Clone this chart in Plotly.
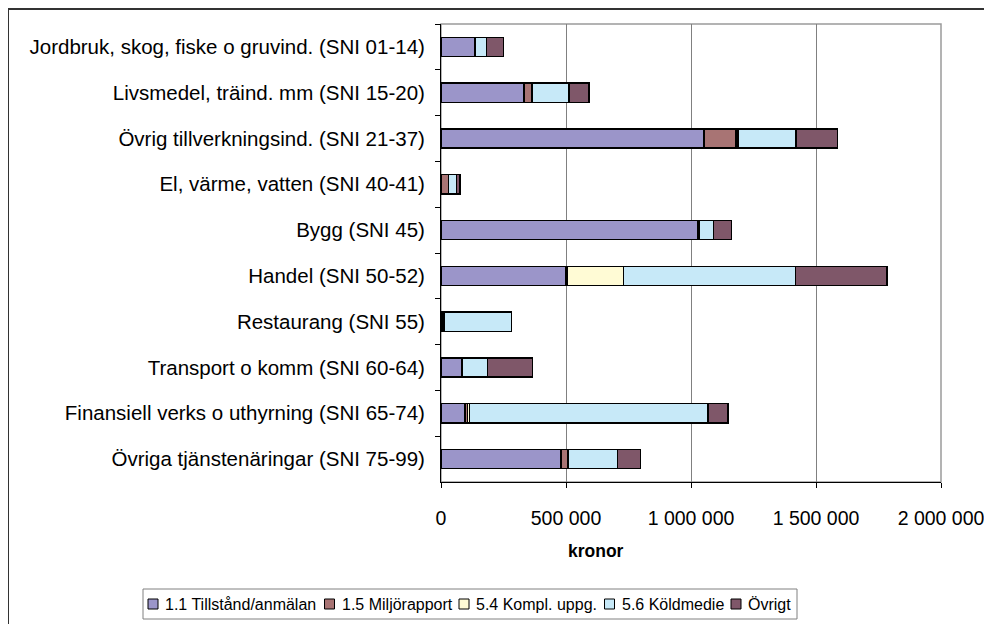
import plotly.graph_objects as go

categories = [
    "Jordbruk, skog, fiske o gruvind. (SNI 01-14)",
    "Livsmedel, träind. mm (SNI 15-20)",
    "Övrig tillverkningsind. (SNI 21-37)",
    "El, värme, vatten (SNI 40-41)",
    "Bygg (SNI 45)",
    "Handel (SNI 50-52)",
    "Restaurang (SNI 55)",
    "Transport o komm (SNI 60-64)",
    "Finansiell verks o uthyrning (SNI 65-74)",
    "Övriga tjänstenäringar (SNI 75-99)",
]

series_names = ["1.1 Tillstånd/anmälan", "1.5 Miljörapport", "5.4 Kompl. uppg.", "5.6 Köldmedie", "Övrigt"]
tillstand = [133000, 332000, 1052000, 0, 1027000, 499000, 8000, 83000, 95000, 480000]
miljorapport = [5000, 32000, 128000, 29000, 6000, 6000, 3000, 0, 11000, 27000]
kompl_uppg = [0, 0, 8000, 0, 0, 224000, 0, 0, 7000, 0]
koldmedie = [44000, 147000, 231000, 33000, 57000, 689000, 271000, 103000, 955000, 199000]
ovrigt = [67000, 80000, 167000, 13000, 72000, 365000, 0, 180000, 79000, 91000]
series_values = [tillstand, miljorapport, kompl_uppg, koldmedie, ovrigt]
colors = ["#9B95C9", "#A87474", "#FFFBD5", "#C7E9F8", "#7F5769"]

x_tickvals = [0, 500000, 1000000, 1500000, 2000000]
x_ticktext = ["0", "500 000", "1 000 000", "1 500 000", "2 000 000"]

FONT = "Liberation Sans, Arial, sans-serif"
OFF = 8  # page offset of the figure (body margin)
W, H = 992, 624
# plot area in page pixel coordinates
PL, PR, PT, PB = 441, 941, 24, 482


def px(x):
    return (x - PL) / (PR - PL)


def py(y):
    return (PB - y) / (PB - PT)


fig = go.Figure()
for name, vals, col in zip(series_names, series_values, colors):
    fig.add_trace(go.Bar(
        y=categories, x=vals, name=name, orientation="h",
        marker=dict(color=col, line=dict(color="black", width=1.5)),
        showlegend=False,
    ))

shapes = [
    # plot area border (gray top/right)
    dict(type="rect", xref="paper", yref="paper", x0=0, x1=1, y0=0, y1=1,
         line=dict(color="#9A9A9A", width=1.5), layer="below"),
    # outer chart border
    dict(type="rect", xref="paper", yref="paper", x0=px(8), x1=px(1100), y0=py(700), y1=py(9),
         line=dict(color="#333333", width=2)),
    # legend box
    dict(type="rect", xref="paper", yref="paper", x0=px(143), x1=px(797), y0=py(619), y1=py(589),
         line=dict(color="#808080", width=1), fillcolor="white"),
]
annotations = [
    dict(text="<b>kronor</b>", x=px(596), y=py(551), xref="paper", yref="paper",
         showarrow=False, font=dict(family=FONT, size=17.5, color="black"),
         xanchor="center", yanchor="middle"),
]

sq_x = [148, 324.5, 459, 604.5, 731]
txt_x = [163, 339.5, 474, 619.5, 746]
for name, col, sx, tx in zip(series_names, colors, sq_x, txt_x):
    shapes.append(dict(type="rect", xref="paper", yref="paper", x0=px(sx), x1=px(sx + 10),
                       y0=py(609), y1=py(599), line=dict(color="black", width=1), fillcolor=col))
    annotations.append(dict(text=name, x=px(tx), y=py(604), xref="paper", yref="paper",
                            showarrow=False, xanchor="left", yanchor="middle",
                            font=dict(family=FONT, size=16, color="black")))

fig.update_layout(
    width=W, height=H, autosize=False,
    margin=dict(l=PL - OFF, r=W - (PR - OFF), t=PT - OFF, b=H - (PB - OFF), pad=0),
    barmode="stack", bargap=0.58,
    plot_bgcolor="white", paper_bgcolor="white",
    font=dict(family=FONT, size=20, color="black"),
    shapes=shapes, annotations=annotations,
    xaxis=dict(
        range=[0, 2000000], tickvals=x_tickvals, ticktext=x_ticktext,
        showgrid=True, gridcolor="#808080", gridwidth=1, zeroline=False,
        showline=True, linecolor="black", linewidth=1,
        ticks="outside", ticklen=5, tickcolor="black",
        tickfont=dict(family=FONT, size=19.5, color="black"),
        ticklabelstandoff=14,
    ),
    yaxis=dict(
        type="category", autorange="reversed",
        showgrid=False, zeroline=False,
        showline=True, linecolor="black", linewidth=1,
        ticks="outside", ticklen=5, tickcolor="black", tickson="boundaries",
        tickfont=dict(family=FONT, size=20.5, color="black"),
        ticklabelstandoff=11,
    ),
)

fig.write_html("out.html")
